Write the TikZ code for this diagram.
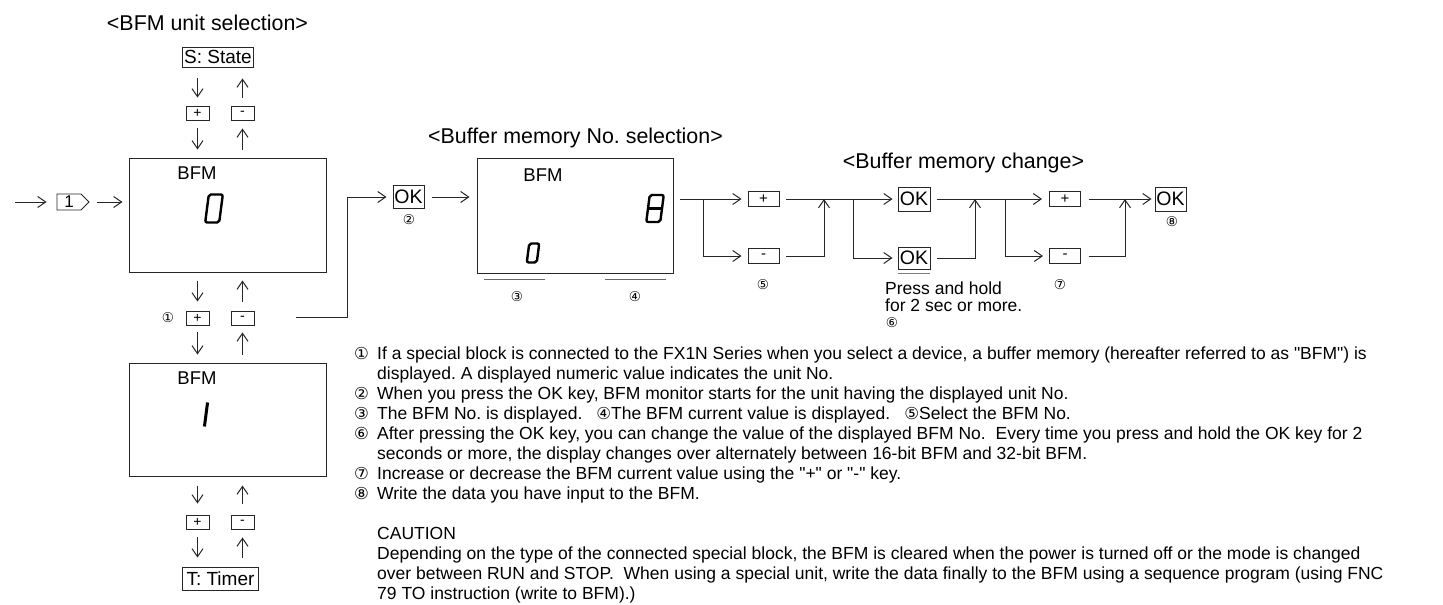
\documentclass[tikz,border=0pt]{standalone}
\usepackage{fontspec}
\setmainfont{Liberation Sans}
\newfontfamily\cnumfont{DejaVu Sans}
\usetikzlibrary{arrows.meta,shapes.symbols,calc}
\frenchspacing
\newcommand\bodyfs{\fontsize{17.5pt}{20pt}\selectfont}
\newcommand\headfs{\fontsize{21.4pt}{24pt}\selectfont}
\newcommand\lcdfs{\fontsize{18.5pt}{20pt}\selectfont}
\newcommand\okfs{\fontsize{19.5pt}{20pt}\selectfont}
\newcommand\pmfs{\fontsize{14pt}{14pt}\selectfont}
\newcommand\cnfs{\cnumfont\fontsize{13.5pt}{13.5pt}\selectfont}
\newcommand\cn[1]{{\cnumfont\fontsize{16.5pt}{16.5pt}\selectfont #1}}
\newcommand\dq{\XeTeXglyph\XeTeXglyphindex "quotedbl" }
\newcommand\segdigit[5]{% x, y, height, width, type
  \begin{scope}[shift={(#1,#2)}, xslant=0.13]
    \ifcase#5
      \draw[line width=2.4pt, rounded corners=2pt] (-#4/2,-#3/2) rectangle (#4/2,#3/2);
    \or
      \draw[line width=3pt] (0,-#3/2) -- (0,#3/2);
    \or
      \draw[line width=2.4pt, rounded corners=2pt] (-#4/2,-#3/2) rectangle (#4/2,#3/2);
      \draw[line width=2.4pt] (-#4/2,0) -- (#4/2,0);
    \fi
  \end{scope}}
\begin{document}
\begin{tikzpicture}[x=1pt,y=-1pt,
  ln/.style={line width=1pt, draw=black!85},
  arr/.style={ln, -{Straight Barb[length=8pt,width=11pt]}},
  kbox/.style={draw=black!85, line width=0.9pt, inner sep=0pt, minimum width=23pt, minimum height=14pt, font=\pmfs},
  rbox/.style={kbox, minimum width=31pt, minimum height=15pt, font=\fontsize{15pt}{15pt}\selectfont},
  okbox/.style={draw=black!85, line width=0.9pt, inner sep=0pt, minimum width=31pt, minimum height=23pt, font=\okfs},
  lcd/.style={draw=black!85, line width=1pt, minimum width=197pt, minimum height=114pt, inner sep=0pt},
  lbl/.style={inner sep=0pt, font=\cnfs},
  txt/.style={inner sep=0pt, anchor=base west, font=\bodyfs},
  head/.style={inner sep=0pt, anchor=base, font=\headfs}]
\useasboundingbox (0,0) rectangle (1443,605);

% headers
\node[head] (h1) at (207.5,30) {<BFM unit selection>};
\node[head] (h2) at (575.5,143) {<Buffer memory No. selection>};
\node[head] (h3) at (963.5,168) {<Buffer memory change>};

% left column
\node[kbox, minimum width=71pt, minimum height=20pt, anchor=west, font=\fontsize{19pt}{19pt}\selectfont] (state) at (182,57) {S: State};
\node[kbox] (p1) at (197.5,113) {+};
\node[kbox] (m1) at (242.5,113) {-};
\node[lcd] (lcd1) at (227.5,215) {};
\node[inner sep=0pt, font=\lcdfs] (bfm1) at (197,173) {BFM};
\segdigit{214}{208.5}{28}{14}{0}
\node[kbox] (p2) at (197.5,318) {+};
\node[kbox] (m2) at (242.5,318) {-};
\node[lbl] (c1) at (168,318) {①};
\node[lcd, minimum height=113pt] (lcd2) at (227.5,419.5) {};
\node[inner sep=0pt, font=\lcdfs] (bfm2) at (197,378) {BFM};
\segdigit{206}{414.5}{24}{0}{1}
\node[kbox] (p3) at (197.5,522) {+};
\node[kbox] (m3) at (242.5,522) {-};
\node[kbox, minimum width=76pt, minimum height=23pt, anchor=west, font=\fontsize{19pt}{19pt}\selectfont] (timer) at (182,578.5) {T: Timer};

\draw[arr, shorten <=11pt, shorten >=8pt] (state.south -| p1) -- (p1.north);
\draw[arr, shorten <=8pt, shorten >=11pt] (m1.north) -- (state.south -| m1);
\draw[arr, shorten <=8pt, shorten >=8pt] (p1.south) -- (lcd1.north -| p1);
\draw[arr, shorten <=8pt, shorten >=8pt] (lcd1.north -| m1) -- (m1.south);
\draw[arr, shorten <=8pt, shorten >=9pt] (lcd1.south -| p2) -- (p2.north);
\draw[arr, shorten <=9pt, shorten >=8pt] (m2.north) -- (lcd1.south -| m2);
\draw[arr, shorten <=7pt, shorten >=8pt] (p2.south) -- (lcd2.north -| p2);
\draw[arr, shorten <=8pt, shorten >=7pt] (lcd2.north -| m2) -- (m2.south);
\draw[arr, shorten <=9pt, shorten >=11pt] (lcd2.south -| p3) -- (p3.north);
\draw[arr, shorten <=11pt, shorten >=9pt] (m3.north) -- (lcd2.south -| m3);
\draw[arr, shorten <=8pt, shorten >=9pt] (p3.south) -- (timer.north -| p3);
\draw[arr, shorten <=9pt, shorten >=8pt] (timer.north -| m3) -- (m3.south);

% input
\coordinate (in0) at (15,202);
\node[draw=black!85, line width=0.9pt, shape=signal, signal to=east, signal pointer angle=90, minimum width=32pt, minimum height=16pt, inner sep=0pt, font=\fontsize{17pt}{17pt}\selectfont] (k1) at (69,202) {1\hspace{5pt}};
\draw[arr, shorten >=10pt] (in0) -- (k1.west);
\draw[arr, shorten <=7pt, shorten >=6pt] (k1.east) -- (k1.east -| lcd1.west);

% to buffer memory selection
\coordinate (ex) at (296,317);
\node[okbox] (ok1) at (408.5,197) {OK};
\node[lbl] (c2) at (409,220) {②};
\draw[arr, shorten >=6pt] (ex) -| ($(ok1.west)+(-45,0)$) -- (ok1.west);
\node[lcd, minimum width=196pt, minimum height=115pt] (lcd3) at (575,215.5) {};
\node[inner sep=0pt, font=\lcdfs] (bfm3) at (543,175) {BFM};
\segdigit{655}{208.5}{27}{14}{2}
\segdigit{533}{253}{19}{10}{0}
\draw[arr, shorten <=8pt, shorten >=7pt] (ok1.east) -- (ok1.east -| lcd3.west);
\draw[ln, draw=black!60] (484,279) -- (545,279);
\draw[ln, draw=black!60] (605,279) -- (666,279);
\node[lbl] (c3) at (517,297) {③};
\node[lbl] (c4) at (635,297) {④};

% buffer memory change
\coordinate (s0) at (680,199);
\coordinate (b1) at (703,199);
\coordinate (j1) at (824,199);
\coordinate (b2) at (853,199);
\coordinate (j2) at (975,199);
\coordinate (b3) at (1005,199);
\coordinate (j3) at (1125,199);
\node[rbox] (pa) at (763.5,199) {+};
\node[rbox] (ma) at (763.5,256) {-};
\node[okbox, minimum width=32pt, minimum height=24pt] (okA) at (914,199) {OK};
\node[okbox, minimum width=32pt, minimum height=22pt] (okB) at (914,258) {OK};
\node[rbox] (pb) at (1065,199) {+};
\node[rbox] (mb) at (1065,256) {-};
\node[okbox, minimum width=31pt, minimum height=24pt] (okC) at (1170.5,199) {OK};
\draw[ln, draw=black!50] ([yshift=-4pt]okB.south west) -- ([yshift=-4pt]okB.south east);

\draw[arr, shorten >=6pt] (s0) -- (pa.west);
\draw[arr, shorten >=6pt] (b1) |- (ma.west);
\draw[arr, shorten <=7pt, shorten >=5pt] (pa.east) -- (okA.west);
\draw[arr, shorten <=7pt] (ma.east) -| (j1);
\draw[arr, shorten >=5pt] (b2) |- (okB.west);
\draw[arr, shorten <=7pt, shorten >=7pt] (okA.east) -- (pb.west);
\draw[arr, shorten <=7pt] (okB.east) -| (j2);
\draw[arr, shorten >=6pt] (b3) |- (mb.west);
\draw[arr, shorten <=8pt, shorten >=3pt] (pb.east) -- (okC.west);
\draw[arr, shorten <=8pt] (mb.east) -| (j3);

\node[lbl] (c5) at (763,285) {⑤};
\node[lbl] (c7) at (1060,285) {⑦};
\node[lbl] (c8) at (1172,222) {⑧};
\node[txt] (ph1) at (885,294) {Press and hold};
\node[txt] (ph2) at (885,311) {for 2 sec or more.};
\node[lbl] (c6) at (892,323) {⑥};

% notes
\node[txt] (n0a) at (354,359) {\cn{①}};
\node[txt] (n0) at (377,359) {If a special block is connected to the FX1N Series when you select a device, a buffer memory (hereafter referred to as \dq BFM\dq) is};
\node[txt] (n1) at (377,379) {displayed. A displayed numeric value indicates the unit No.};
\node[txt] (n2a) at (354,399) {\cn{②}};
\node[txt] (n2) at (377,399) {When you press the OK key, BFM monitor starts for the unit having the displayed unit No.};
\node[txt] (n3a) at (354,419) {\cn{③}};
\node[txt] (n3) at (377,419) {The BFM No. is displayed.\hspace{14pt}\cn{④}The BFM current value is displayed.\hspace{14pt}\cn{⑤}Select the BFM No.};
\node[txt] (n4a) at (354,439) {\cn{⑥}};
\node[txt] (n4) at (377,439) {After pressing the OK key, you can change the value of the displayed BFM No.\hspace{5pt} Every time you press and hold the OK key for 2};
\node[txt] (n5) at (377,459) {seconds or more, the display changes over alternately between 16-bit BFM and 32-bit BFM.};
\node[txt] (n6a) at (354,479) {\cn{⑦}};
\node[txt] (n6) at (377,479) {Increase or decrease the BFM current value using the \dq +\dq{} or \dq -\dq{} key.};
\node[txt] (n7a) at (354,499) {\cn{⑧}};
\node[txt] (n7) at (377,499) {Write the data you have input to the BFM.};
\node[txt] (n9) at (377,539) {CAUTION};
\node[txt] (n10) at (377,559) {Depending on the type of the connected special block, the BFM is cleared when the power is turned off or the mode is changed};
\node[txt] (n11) at (377,579) {over between RUN and STOP.\hspace{5pt} When using a special unit, write the data finally to the BFM using a sequence program (using FNC};
\node[txt] (n12) at (377,599) {79 TO instruction (write to BFM).)};
\end{tikzpicture}
\end{document}
